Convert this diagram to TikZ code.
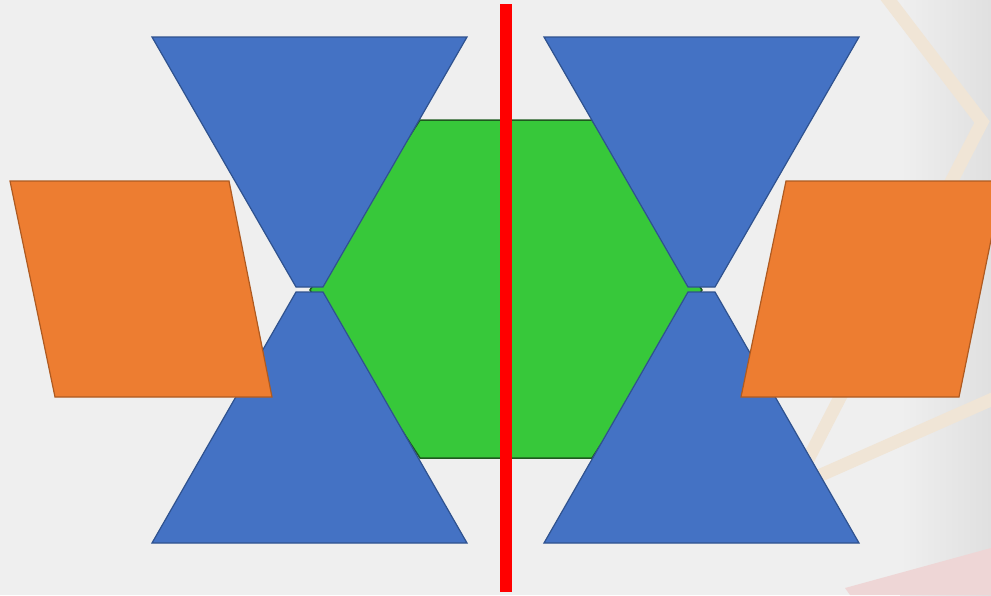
\documentclass[tikz,border=0pt]{standalone}
\definecolor{bgc}{RGB}{239,239,239}
\definecolor{bgdark}{RGB}{224,224,224}
\definecolor{bandc}{RGB}{240,229,214}
\definecolor{pinkc}{RGB}{238,214,214}
\definecolor{bluef}{RGB}{68,114,196}
\definecolor{blued}{RGB}{47,82,143}
\definecolor{orangef}{RGB}{237,125,49}
\definecolor{oranged}{RGB}{174,90,33}
\definecolor{greenf}{RGB}{55,200,58}
\definecolor{greend}{RGB}{30,90,30}
\definecolor{redc}{RGB}{255,0,0}
\begin{document}
\begin{tikzpicture}[x=1pt,y=-1pt,
  bluetrap/.style={fill=bluef,draw=blued,line width=1.2pt,line join=miter},
  orangepar/.style={fill=orangef,draw=oranged,line width=1.2pt},
  hexshape/.style={fill=greenf,draw=greend,line width=1.5pt},
  bgband/.style={draw=bandc,line width=13pt,line join=miter}]
\useasboundingbox (0,0) rectangle (991,595);
\fill[bgc] (0,0) rectangle (991,595);
% faint background decoration
\shade[left color=bgc,right color=bgdark] (900,0) rectangle (991,595);
\draw[bgband] (885,-5) -- (982,122) -- (800,475);
\draw[bgband] (805,482) -- (995,398);
\fill[pinkc] (845,588) -- (991,548) -- (991,595) -- (850,595) -- cycle;
% hexagon
\draw[hexshape] (310,290) -- (420,120) -- (592,120) -- (702,290) -- (592,458) -- (420,458) -- cycle;
% blue trapezoids
\draw[bluetrap] (152,37) -- (467,37) -- (323,287) -- (296,287) -- cycle;
\draw[bluetrap] (296,292) -- (323,292) -- (467,543) -- (152,543) -- cycle;
\draw[bluetrap] (544,37) -- (859,37) -- (715,287) -- (688,287) -- cycle;
\draw[bluetrap] (688,292) -- (715,292) -- (859,543) -- (544,543) -- cycle;
% orange parallelograms
\draw[orangepar] (10,181) -- (229,181) -- (272,397) -- (55,397) -- cycle;
\draw[orangepar] (786,181) -- (1003,181) -- (959,397) -- (741,397) -- cycle;
% red line
\coordinate (rtop) at (506,4);
\coordinate (rbot) at (506,592);
\draw[redc,line width=12pt] (rtop) -- (rbot);
\end{tikzpicture}
\end{document}
